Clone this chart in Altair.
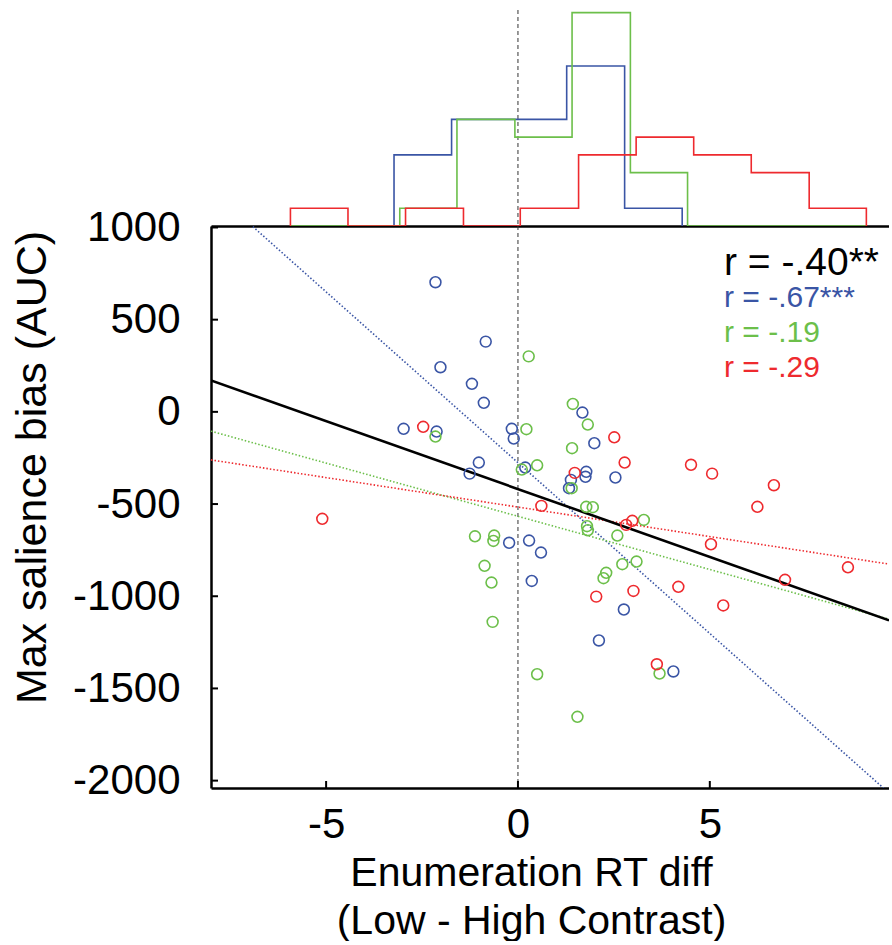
import altair as alt
import pandas as pd

# ---------------- data ----------------
blue_x = [-2.15, -0.84, -2.02, -1.20, -0.89, -2.98, -2.12, -0.16, -0.11, -1.02, -1.26, 0.19, 1.68,
          1.99, 1.78, 1.76, 1.38, 2.54, 1.33, -0.23, 0.29, 0.60, 0.36, 2.76, 2.11, 4.05]
blue_y = [703, 381, 242, 152, 49, -92, -107, -92, -145, -275, -335, -302, -4,
          -170, -325, -352, -369, -356, -414, -710, -698, -763, -917, -1072, -1240, -1408]

green_x = [0.28, -2.15, 0.22, 0.10, 0.50, 1.43, 1.82, 1.41, 1.40, 1.78, 1.95, 3.28, 1.80, 1.82,
           2.59, 2.72, 3.09, 2.30, 2.23, 3.69, 0.50, 1.55, -1.12, -0.62, -0.64, -0.87, -0.69, -0.66]
green_y = [301, -134, -94, -313, -290, 43, -69, -197, -414, -515, -517, -586, -620, -642,
           -671, -826, -812, -873, -902, -1419, -1423, -1654, -675, -671, -700, -835, -926, -1139]

red_x = [-2.47, 0.61, -5.10, 2.51, 2.78, 4.51, 5.06, 6.67, 1.48, 6.24, 2.98, 2.82, 5.03, 8.60,
         6.96, 4.18, 3.01, 2.04, 5.35, 3.62]
red_y = [-81, -510, -580, -138, -275, -287, -335, -398, -331, -515, -591, -613, -718, -843,
         -911, -949, -971, -1002, -1050, -1369]

# histogram outlines (bin edges and counts) per group
blue_edges = [-3.23, -1.73, -0.23, 1.27, 2.78, 4.28]
blue_counts = [4, 6, 6, 9, 1]
green_edges = [-5.93, -3.08, -1.59, -0.08, 1.41, 2.93, 4.42, 9.08]
green_counts = [0, 1, 6, 5, 12, 3, 0]
red_edges = [-5.93, -4.43, -2.93, -1.42, 0.06, 1.58, 3.08, 4.58, 6.08, 7.59, 9.08]
red_counts = [1, 0, 1, 0, 1, 4, 5, 4, 3, 1]

groups = ["blue", "green", "red"]
colors = ["#3a55a5", "#6cbf4a", "#ee2a2e"]

r_labels = ["r = -.40**", "r = -.67***", "r = -.19", "r = -.29"]
r_colors = ["#000000", "#3a55a5", "#6cbf4a", "#ee2a2e"]

x_ticks = [-5, 0, 5]
y_ticks = [-2000, -1500, -1000, -500, 0, 500, 1000]

# ---------------- tables ----------------
rows = []
for g, xs, ys in zip(groups, [blue_x, green_x, red_x], [blue_y, green_y, red_y]):
    for a, b in zip(xs, ys):
        rows.append({"x": a, "y": b, "g": g})
pts = pd.DataFrame(rows)

hrows = []
for g, edges, counts in zip(groups, [blue_edges, green_edges, red_edges],
                            [blue_counts, green_counts, red_counts]):
    seq = [(edges[0], 0)] + list(zip(edges[:-1], counts)) + [(edges[-1], 0)]
    for i, (e, c) in enumerate(seq):
        hrows.append({"x": e, "count": c, "g": g, "i": i})
hist = pd.DataFrame(hrows)

FONT = "Liberation Sans"
W = 678
XDOM = [-8, -8 + W / 38.37]
YDOM = [-2040, 1008]
H_TOP = 216
H = 562

color_scale = alt.Scale(domain=groups, range=colors)
xs_scale = alt.Scale(domain=XDOM, nice=False, zero=False)

zero_df = pd.DataFrame({"x": [0]})

# ---------------- top: histograms ----------------
hist_lines = alt.Chart(hist).mark_line(interpolate="step-after", strokeWidth=1.6, clip=True).encode(
    x=alt.X("x:Q", scale=xs_scale,
            axis=alt.Axis(title=None, labels=False, ticks=False, tickSize=0, grid=False,
                          domainColor="black", domainWidth=2.5)),
    y=alt.Y("count:Q", scale=alt.Scale(domain=[0, 12.15], nice=False), axis=None),
    color=alt.Color("g:N", scale=color_scale, legend=None),
    order=alt.Order("i:Q"),
)
top_zero = alt.Chart(zero_df).mark_rule(color="#333333", strokeWidth=1, strokeDash=[4, 3]).encode(
    x=alt.X("x:Q", scale=xs_scale)
)
top_anchor = alt.Chart(zero_df).mark_rule(opacity=0).encode(
    x=alt.value(-211), x2=alt.value(-210), y=alt.value(-10), y2=alt.value(0)
)
top = alt.layer(top_anchor, top_zero, hist_lines).properties(width=W, height=H_TOP)

# ---------------- bottom: scatter ----------------
xaxis = alt.Axis(values=x_ticks, ticks=False, tickSize=0, grid=False, domainColor="black",
                 domainWidth=2.5, labelFontSize=42, labelFont=FONT, labelColor="black",
                 labelPadding=16, labelFlush=False, labelOverlap=False,
                 labelExpr="'' + datum.value",
                 title=["Enumeration RT diff", "(Low - High Contrast)"], titleFont=FONT,
                 titleFontSize=41, titleFontWeight="normal", titleColor="black",
                 titleLineHeight=48, titleBaseline="alphabetic", titleX=320, titleY=97,
                 titleAlign="center")
yaxis = alt.Axis(values=y_ticks, ticks=False, tickSize=0, grid=False, domainColor="black",
                 domainWidth=2.5, labelFontSize=42, labelFont=FONT, labelColor="black",
                 labelPadding=31, labelOverlap=False, labelFlush=False,
                 labelExpr="'' + datum.value",
                 title="Max salience bias (AUC)", titleFont=FONT, titleFontSize=43,
                 titleFontWeight="normal", titleColor="black", titleBaseline="alphabetic",
                 titleX=-166, titleY=241, titleAlign="center", titleAngle=270)

X = alt.X("x:Q", scale=xs_scale, axis=xaxis)
Y = alt.Y("y:Q", scale=alt.Scale(domain=YDOM, nice=False, zero=False), axis=yaxis)

bot_zero = alt.Chart(zero_df).mark_rule(color="#333333", strokeWidth=1, strokeDash=[4, 3]).encode(
    x=alt.X("x:Q", scale=xs_scale)
)

reg_groups = alt.Chart(pts).transform_regression(
    "x", "y", groupby=["g"], extent=XDOM
).mark_line(strokeWidth=1.6, strokeDash=[1.5, 2], clip=True).encode(
    x=X, y=Y, color=alt.Color("g:N", scale=color_scale, legend=None)
)
reg_all = alt.Chart(pts).transform_regression("x", "y", extent=XDOM).mark_line(
    color="black", strokeWidth=2.6, clip=True
).encode(x=X, y=Y)

points = alt.Chart(pts).mark_point(shape="circle", filled=False, size=118, strokeWidth=1.6,
                                   opacity=1, clip=True).encode(
    x=X, y=Y, color=alt.Color("g:N", scale=color_scale, legend=None)
)

text_layers = []
for lab, col, fs, yy in zip(r_labels, r_colors, [39, 30, 30, 30], [49, 81, 116, 151]):
    tdf = pd.DataFrame({"t": [lab]})
    text_layers.append(
        alt.Chart(tdf).mark_text(align="left", baseline="alphabetic", font=FONT, fontSize=fs,
                                 color=col, clip=True).encode(
            x=alt.value(513), y=alt.value(yy), text="t:N")
    )

ytick_df = pd.DataFrame({"y": y_ticks})
xtick_df = pd.DataFrame({"x": x_ticks})
yticks = alt.Chart(ytick_df).mark_rule(color="black", strokeWidth=2).encode(
    y=alt.Y("y:Q"), x=alt.value(0), x2=alt.value(7)
)
xticks = alt.Chart(xtick_df).mark_rule(color="black", strokeWidth=2).encode(
    x=alt.X("x:Q"), y=alt.value(H - 7), y2=alt.value(H)
)
bot_anchor = alt.Chart(zero_df).mark_rule(opacity=0).encode(
    x=alt.value(-211), x2=alt.value(-210), y=alt.value(0), y2=alt.value(712)
)

bottom = alt.layer(bot_anchor, bot_zero, reg_groups, reg_all, points, yticks, xticks,
                   *text_layers).properties(width=W, height=H)

chart = alt.vconcat(top, bottom, spacing=0, bounds="flush").properties(
    padding=0
).configure(font=FONT).configure_view(stroke=None)

chart.save("out.html", embed_options={"renderer": "svg", "actions": False})
